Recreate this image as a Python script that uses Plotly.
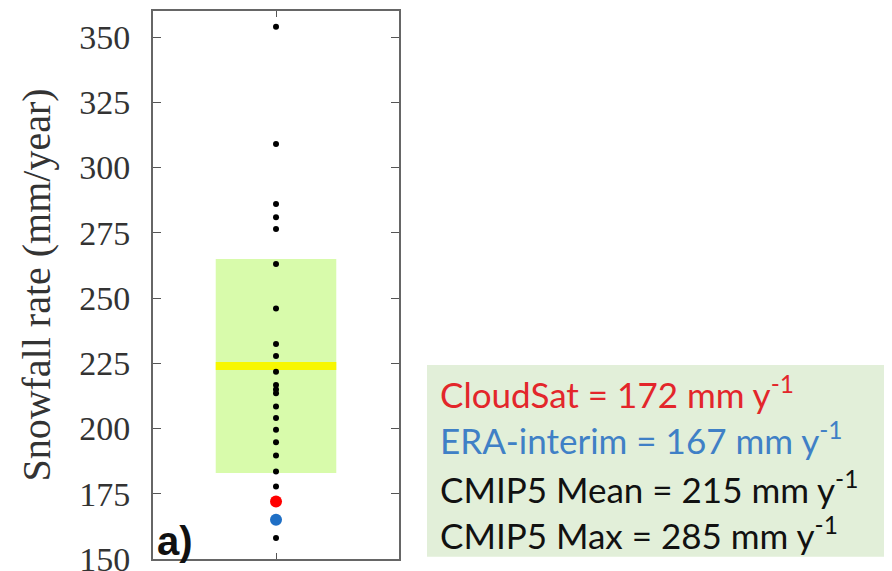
import plotly.graph_objects as go

# CMIP5 model values (mm/year)
CMIP5_MODELS = [354, 309, 286, 281, 276.5, 263, 246, 232.4, 227.8, 221.8, 216.7,
                215, 213.5, 208.4, 204, 199.5, 194.7, 189.7, 183.5, 177.8, 158]
CLOUDSAT = [172]
ERA_INTERIM = [165]
SPREAD_LOW = 183
SPREAD_HIGH = 265
SPREAD_LINE = 224

Y_TICKS = [150, 175, 200, 225, 250, 275, 300, 325, 350]

LEGEND_LINES = [
    ("CloudSat = 172 mm y<sup>-1</sup>", "#e3262b"),
    ("ERA-interim = 167 mm y<sup>-1</sup>", "#3f80c6"),
    ("CMIP5 Mean = 215 mm y<sup>-1</sup>", "#111111"),
    ("CMIP5 Max = 285 mm y<sup>-1</sup>", "#111111"),
]

fig = go.Figure()

# model spread box and centre line
fig.add_shape(type="rect", xref="x", yref="y", x0=-0.49, x1=0.49,
              y0=SPREAD_LOW, y1=SPREAD_HIGH, fillcolor="#d8fbab",
              line_width=0, layer="below")
fig.add_shape(type="line", xref="x", yref="y", x0=-0.49, x1=0.49,
              y0=SPREAD_LINE, y1=SPREAD_LINE, line=dict(color="#f7f700", width=8),
              layer="below")

fig.add_trace(go.Scatter(x=[0] * len(CMIP5_MODELS), y=CMIP5_MODELS, mode="markers",
                         marker=dict(color="#000000", size=6), showlegend=False))
fig.add_trace(go.Scatter(x=[0], y=CLOUDSAT, mode="markers",
                         marker=dict(color="#ff0000", size=12), showlegend=False))
fig.add_trace(go.Scatter(x=[0], y=ERA_INTERIM, mode="markers",
                         marker=dict(color="#1f6fc5", size=12), showlegend=False))

# text panel
fig.add_shape(type="rect", xref="paper", yref="paper", x0=0.3708, x1=1.02,
              y0=0.004, y1=0.354, fillcolor="#e2efd9", line_width=0)
line_y = [0.3047, 0.2208, 0.1314, 0.0474]
for (txt, col), yy in zip(LEGEND_LINES, line_y):
    fig.add_annotation(text=txt, xref="paper", yref="paper", x=0.385, y=yy,
                       xanchor="left", yanchor="middle", showarrow=False,
                       font=dict(family="Lato, Open Sans, sans-serif", size=35, color=col))

fig.add_annotation(text="<b>a)</b>", xref="paper", yref="paper", x=0.003, y=0.0,
                   xanchor="left", yanchor="bottom", showarrow=False, yshift=-6,
                   font=dict(family="Liberation Sans, Arial, sans-serif", size=40, color="#111111"))

# page body adds an 8px offset, so the figure is a bit smaller than the window
fig.update_layout(
    width=884, height=563,
    margin=dict(l=145, r=0, t=3, b=12, autoexpand=False),
    paper_bgcolor="white", plot_bgcolor="white",
    font=dict(family="Liberation Serif, Times New Roman, serif", size=34, color="#333333"),
    showlegend=False,
)
fig.update_xaxes(domain=[0, 0.3329], range=[-1, 1], tickvals=[0], ticktext=[""],
                 ticks="inside", ticklen=6, tickcolor="#555555", mirror="ticks",
                 showline=True, linecolor="#666666", linewidth=2, showgrid=False,
                 zeroline=False, fixedrange=True, automargin=False)
fig.update_yaxes(range=[150, 360], tickvals=Y_TICKS, ticks="inside", ticklen=8,
                 tickcolor="#555555", mirror="ticks", showline=True,
                 linecolor="#666666", linewidth=2, showgrid=False, zeroline=False,
                 ticklabelstandoff=14, automargin=False, ticklabeloverflow="allow",
                 title=dict(text="Snowfall rate (mm/year)", standoff=16,
                            font=dict(family="Liberation Serif, Times New Roman, serif", size=40)))

fig.write_html("out.html")
